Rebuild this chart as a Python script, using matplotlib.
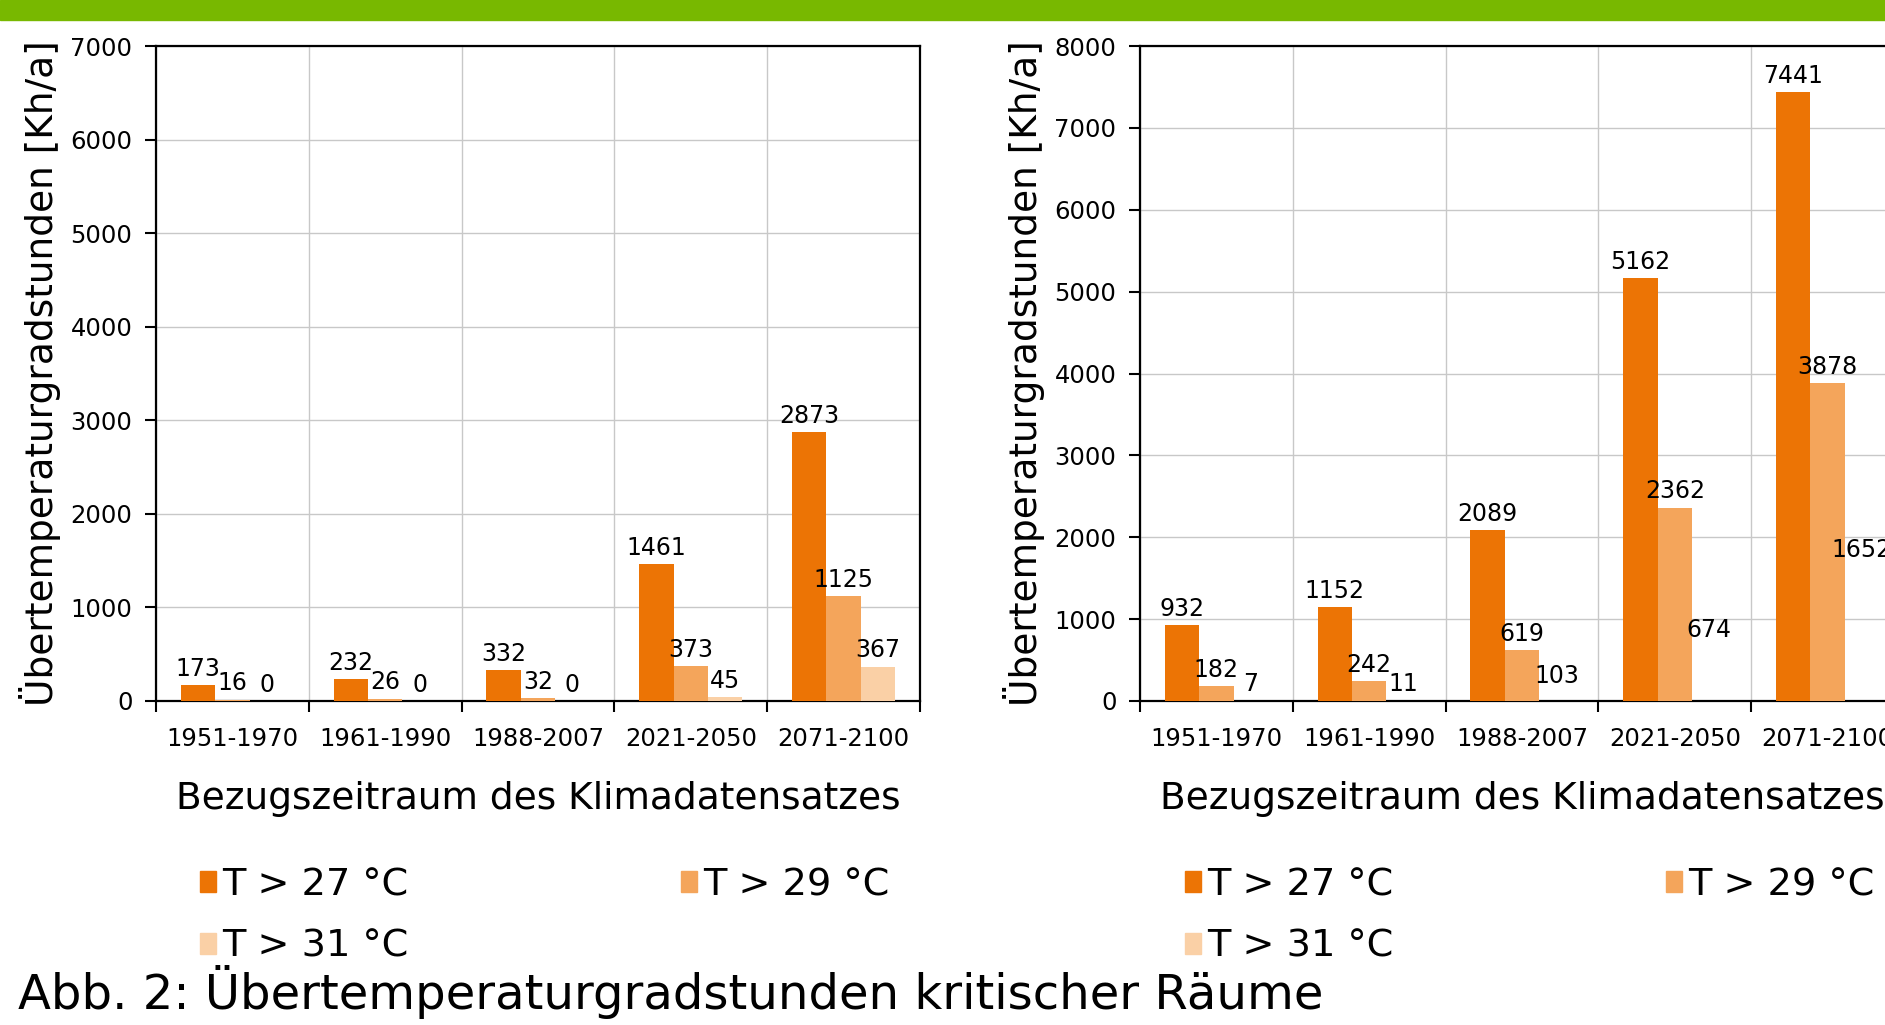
import numpy as np
import matplotlib
matplotlib.use('Agg')
import matplotlib.pyplot as plt
from matplotlib.patches import Patch, Rectangle

# Daten
zeitraeume = ['1951-1970', '1961-1990', '1988-2007', '2021-2050', '2071-2100']
serien = ['T > 27 °C', 'T > 29 °C', 'T > 31 °C']

links_27 = [173, 232, 332, 1461, 2873]
links_29 = [16, 26, 32, 373, 1125]
links_31 = [0, 0, 0, 45, 367]

rechts_27 = [932, 1152, 2089, 5162, 7441]
rechts_29 = [182, 242, 619, 2362, 3878]
rechts_31 = [7, 11, 103, 674, 1652]

farben = ['#ec7405', '#f4a55b', '#fad0a6']

plt.rcParams['font.family'] = 'DejaVu Sans'

fig = plt.figure(figsize=(18.85, 10.25), dpi=100)
fig.patches.append(Rectangle((0, 1 - 20 / 1025), 1, 20 / 1025, transform=fig.transFigure,
                             color='#78b800', zorder=0))

W, H = 1885, 1025


def chart(ax, daten, ymax, face31):
    x = np.arange(len(zeitraeume))
    w = 0.225
    for k, werte in enumerate(daten):
        # im rechten Diagramm ist die dritte Reihe nicht sichtbar
        fc = farben[k] if (k < 2 or face31) else 'none'
        ax.bar(x + (k - 1) * w, werte, width=w, color=fc, zorder=3, linewidth=0)
        for xi, v in zip(x + (k - 1) * w, werte):
            ax.annotate(str(v), (xi, v), xytext=(0, 3), textcoords='offset points',
                        ha='center', va='bottom', fontsize=17, zorder=4,
                        annotation_clip=False)
    ax.set_xlim(-0.5, len(zeitraeume) - 0.5)
    ax.set_ylim(0, ymax)
    ax.set_yticks(np.arange(0, ymax + 1, 1000))
    ax.set_xticks(np.arange(len(zeitraeume) + 1) - 0.5)
    ax.set_xticklabels([])
    ax.set_xticks(x, minor=True)
    ax.set_xticklabels(zeitraeume, minor=True, fontsize=17.5)
    ax.tick_params(axis='x', which='minor', length=0, pad=19)
    ax.tick_params(axis='x', which='major', length=8, width=1.5, direction='out')
    ax.tick_params(axis='y', length=8, width=1.5, labelsize=17.5, pad=9)
    ax.grid(True, which='major', color='#c8c8c8', linewidth=1, zorder=0)
    ax.set_axisbelow(True)
    for s in ax.spines.values():
        s.set_linewidth(1.6)
        s.set_color('black')
    ax.set_ylabel('Übertemperaturgradstunden [Kh/a]', fontsize=27, labelpad=7)
    ax.set_xlabel('Bezugszeitraum des Klimadatensatzes', fontsize=27, labelpad=21)


ax1 = fig.add_axes([156 / W, 1 - 701 / H, 764 / W, 655 / H])
chart(ax1, [links_27, links_29, links_31], 7000, True)

ax2 = fig.add_axes([1140 / W, 1 - 701 / H, 764 / W, 655 / H])
chart(ax2, [rechts_27, rechts_29, rechts_31], 8000, False)

handles = [Patch(color=c) for c in farben]
order = [0, 2, 1]
for x0 in (200, 1185):
    fig.legend([handles[i] for i in order], [serien[i] for i in order],
               loc='upper left', bbox_to_anchor=(x0 / W, 1 - 867 / H),
               ncol=2, frameon=False, fontsize=27.5, handlelength=0.42,
               handleheight=0.45, handletextpad=0.15, columnspacing=7.15,
               labelspacing=0.68, borderpad=0, borderaxespad=0)

fig.text(18 / W, 1 - 992 / H, 'Abb. 2: Übertemperaturgradstunden kritischer Räume',
         fontsize=34.7, va='center', ha='left')

fig.savefig('out.png', dpi=100)
